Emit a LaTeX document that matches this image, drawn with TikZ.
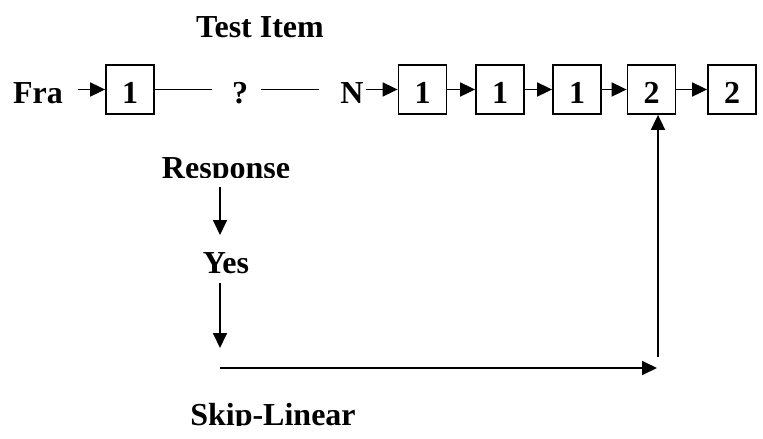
\documentclass[tikz,border=0pt]{standalone}
\usepackage{fontspec}
\setmainfont{Liberation Serif}
\usetikzlibrary{arrows.meta}
\begin{document}
\begin{tikzpicture}[x=1pt,y=1pt,
  every node/.style={font=\fontsize{32}{38}\selectfont\bfseries},
  cell/.style={draw, line width=1.8pt, minimum width=48pt, minimum height=49pt,
               inner sep=0pt, text height=27pt, text depth=0pt},
  lbl/.style={inner sep=0pt, anchor=base},
  link/.style={line width=1.8pt},
  arr/.style={line width=1.8pt, -{Triangle[length=15pt,width=14pt]}}]
\useasboundingbox (0,0) rectangle (763,-439);

% the chain of test items
\node[cell] (b1) at (130,-89.5) {1};
\node[cell] (b2) at (422.5,-89.5) {1};
\node[cell] (b3) at (500,-89.5) {1};
\node[cell] (b4) at (577,-89.5) {1};
\node[cell] (b5) at (651.5,-89.5) {2};
\node[cell] (b6) at (732,-89.5) {2};

% labels
\node[lbl] (title) at (260,-37) {Test Item};
\node[lbl] (fra) at (38,-103) {Fra};
\node[lbl] (q) at (240,-103) {?};
\node[lbl] (n) at (352,-103) {N};
\begin{scope}
  \clip (140,-140) rectangle (320,-177.5);
  \node[lbl] (resp) at (226,-178) {Response};
\end{scope}
\node[lbl] (yes) at (226,-273) {Yes};
\begin{scope}
  \clip (180,-395) rectangle (380,-425.5);
  \node[lbl] (skip) at (273,-425) {Skip-Linear};
\end{scope}

% connectors along the chain
\draw[arr, shorten <=15pt] (b1.west -| fra.east) -- (b1.west);
\draw[link, shorten >=19.5pt] (b1.east) -- (b1.east -| q.west);
\draw[link, shorten <=12.5pt, shorten >=21pt] (b1.east -| q.east) -- (b1.east -| n.west);
\draw[arr, shorten <=2pt] (b2.west -| n.east) -- (b2.west);
\draw[arr] (b2) -- (b3);
\draw[arr] (b3) -- (b4);
\draw[arr] (b4) -- (b5);
\draw[arr] (b5) -- (b6);

% response path and the skip back into the chain
\coordinate (d1s) at (220,-187);
\coordinate (d1e) at (220,-235);
\coordinate (d2s) at (220,-283);
\coordinate (d2e) at (220,-348);
\coordinate (hs) at (220,-368);
\coordinate (he) at (657,-368);
\coordinate (vs) at (658,-357);
\draw[arr] (d1s) -- (d1e);
\draw[arr] (d2s) -- (d2e);
\draw[arr] (hs) -- (he);
\draw[arr] (vs) -- (vs |- b5.south);
\end{tikzpicture}
\end{document}
